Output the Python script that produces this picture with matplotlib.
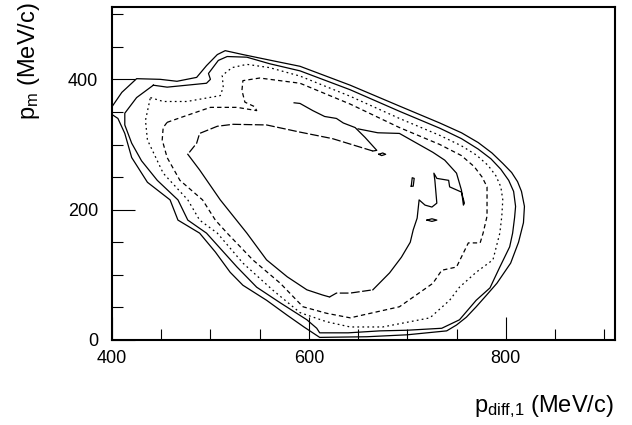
import matplotlib
matplotlib.use('Agg')
import matplotlib.pyplot as plt

plt.rcParams['font.family'] = ['Liberation Sans', 'DejaVu Sans']
plt.rcParams['mathtext.fontset'] = 'custom'
plt.rcParams['mathtext.rm'] = 'Liberation Sans'
plt.rcParams['mathtext.it'] = 'Liberation Sans:italic'

# ---- contour lines (p_diff,1 , p_m) in MeV/c ----
L1_x = [400, 410, 425, 449, 466, 486, 496, 507, 515, 533, 565, 591, 642, 692, 733, 755, 772, 786, 797, 806, 812, 816, 819, 818, 813, 805, 791, 780, 770, 760, 750, 740, 700, 659, 611, 595, 578, 557, 533, 520, 505, 489, 467, 459, 436, 420, 413, 406, 400]
L1_y = [358, 380, 401, 400, 397, 403, 421, 438, 444, 438, 428, 420, 391, 359, 333, 318, 303, 287, 271, 257, 243, 228, 205, 180, 150, 118, 87, 68, 51, 35, 23, 14, 8, 5, 4, 20, 38, 61, 84, 104, 135, 164, 184, 215, 242, 280, 317, 340, 346]

L2_x = [442, 456, 476, 496, 500, 498, 508, 517, 537, 560, 591, 642, 692, 733, 755, 772, 785, 795, 803, 808, 810, 809, 807, 804, 794, 784, 770, 753, 735, 700, 672, 640, 611, 608, 598, 571, 547, 527, 496, 477, 467, 446, 430, 420, 413, 413, 425, 442]
L2_y = [391, 388, 391, 394, 400, 409, 429, 435, 434, 424, 413, 384, 351, 325, 309, 293, 278, 262, 245, 228, 205, 188, 164, 143, 112, 80, 61, 31, 18, 15, 14, 11, 11, 18, 31, 57, 81, 112, 164, 184, 215, 245, 275, 302, 330, 348, 372, 391]

L3_x = [439, 452, 476, 510, 513, 512, 522, 537, 560, 591, 642, 692, 733, 755, 770, 782, 790, 795, 797, 796, 794, 787, 770, 753, 743, 723, 675, 642, 618, 591, 563, 533, 507, 489, 477, 452, 436, 434, 439]
L3_y = [372, 366, 366, 375, 388, 406, 418, 423, 418, 405, 374, 340, 314, 298, 284, 268, 252, 235, 215, 190, 164, 123, 104, 81, 61, 34, 20, 20, 28, 42, 77, 118, 164, 184, 215, 256, 307, 337, 372]

L4_x = [456, 471, 500, 527, 547, 545, 535, 532, 533, 550, 591, 642, 692, 733, 755, 768, 776, 781, 781, 777, 774, 762, 750, 735, 726, 692, 642, 618, 594, 571, 543, 517, 505, 492, 469, 456, 451, 452, 456]
L4_y = [334, 342, 357, 357, 352, 358, 365, 383, 398, 402, 394, 362, 326, 300, 283, 266, 250, 235, 190, 164, 149, 149, 112, 107, 87, 51, 34, 41, 51, 87, 123, 164, 184, 215, 245, 280, 307, 326, 334]

# inner region: long-dashed parts, solid boundary, tongue and small islands
L5_x = [665, 624, 591, 557, 523, 507, 489, 486, 477]
L5_y = [290, 309, 319, 330, 331, 328, 317, 302, 285]
L5b_x = [621, 628, 642, 665]
L5b_y = [66, 72, 72, 77]
L5s_x = [477, 489, 510, 537, 557, 578, 598, 614, 621]
L5s_y = [285, 261, 215, 164, 123, 97, 77, 69, 66]
L5r_x = [665, 682, 694, 703, 706, 710, 712, 718, 725, 730, 728, 727, 730, 742, 743, 755, 758, 757, 755, 750, 738, 726, 692, 670, 650]
L5r_y = [77, 103, 127, 150, 169, 187, 215, 207, 204, 210, 245, 256, 248, 245, 235, 227, 210, 207, 230, 256, 276, 288, 317, 318, 324]
T_x = [585, 591, 604, 616, 628, 635, 647, 657, 669, 665]
T_y = [364, 363, 352, 343, 340, 333, 326, 311, 291, 290]
I1_x = [704, 706, 707, 705, 704]
I1_y = [236, 236, 248, 249, 236]
I2_x = [720, 725, 730, 725, 720]
I2_y = [184, 186, 184, 182, 184]
I3_x = [671, 675, 678, 674, 671]
I3_y = [285, 287, 285, 283, 285]

fig = plt.figure(figsize=(6.32, 4.25), dpi=100)
ax = fig.add_axes([112/632, 1-340/425, (615-112)/632, (340-7)/425])

lw = 0.9
longdash = (0, (7, 2))
ax.plot(L1_x, L1_y, color='black', lw=lw, ls='-')
ax.plot(L2_x, L2_y, color='black', lw=lw, ls='-')
ax.plot(L3_x, L3_y, color='black', lw=lw, ls=(0, (1.4, 2.6)))
ax.plot(L4_x, L4_y, color='black', lw=lw, ls=(0, (3.5, 2.5)))
ax.plot(L5_x, L5_y, color='black', lw=lw, ls=longdash)
ax.plot(L5b_x, L5b_y, color='black', lw=lw, ls=longdash)
ax.plot(L5s_x, L5s_y, color='black', lw=lw, ls='-')
ax.plot(L5r_x, L5r_y, color='black', lw=lw, ls='-')
ax.plot(T_x, T_y, color='black', lw=lw, ls='-')
for ix, iy in [(I1_x, I1_y), (I2_x, I2_y), (I3_x, I3_y)]:
    ax.plot(ix, iy, color='black', lw=lw, ls='-')

ax.set_xlim(400, 911)
ax.set_ylim(0, 511)
ax.set_xticks([400, 600, 800])
ax.set_xticks([450, 500, 550, 650, 700, 750, 850, 900], minor=True)
ax.set_yticks([0, 200, 400])
ax.set_yticks([50, 100, 150, 250, 300, 350, 450, 500], minor=True)
ax.tick_params(which='both', direction='in', top=False, right=False, width=0.8, labelsize=13)
ax.tick_params(which='major', length=16.5)
ax.tick_params(which='minor', length=8)
ax.tick_params(axis='x', which='major', pad=7)
ax.tick_params(axis='y', which='major', pad=10)
for s in ax.spines.values():
    s.set_linewidth(1.5)

fig.text(29/632, 1-2/425, r'p$_{\rm m}$ (MeV/c)', rotation=90, ha='center', va='top', fontsize=17)
fig.text(614/632, 1-412/425, r'p$_{\rm diff{,}1}$ (MeV/c)', ha='right', va='baseline', fontsize=17)

fig.savefig('out.png', dpi=100)
